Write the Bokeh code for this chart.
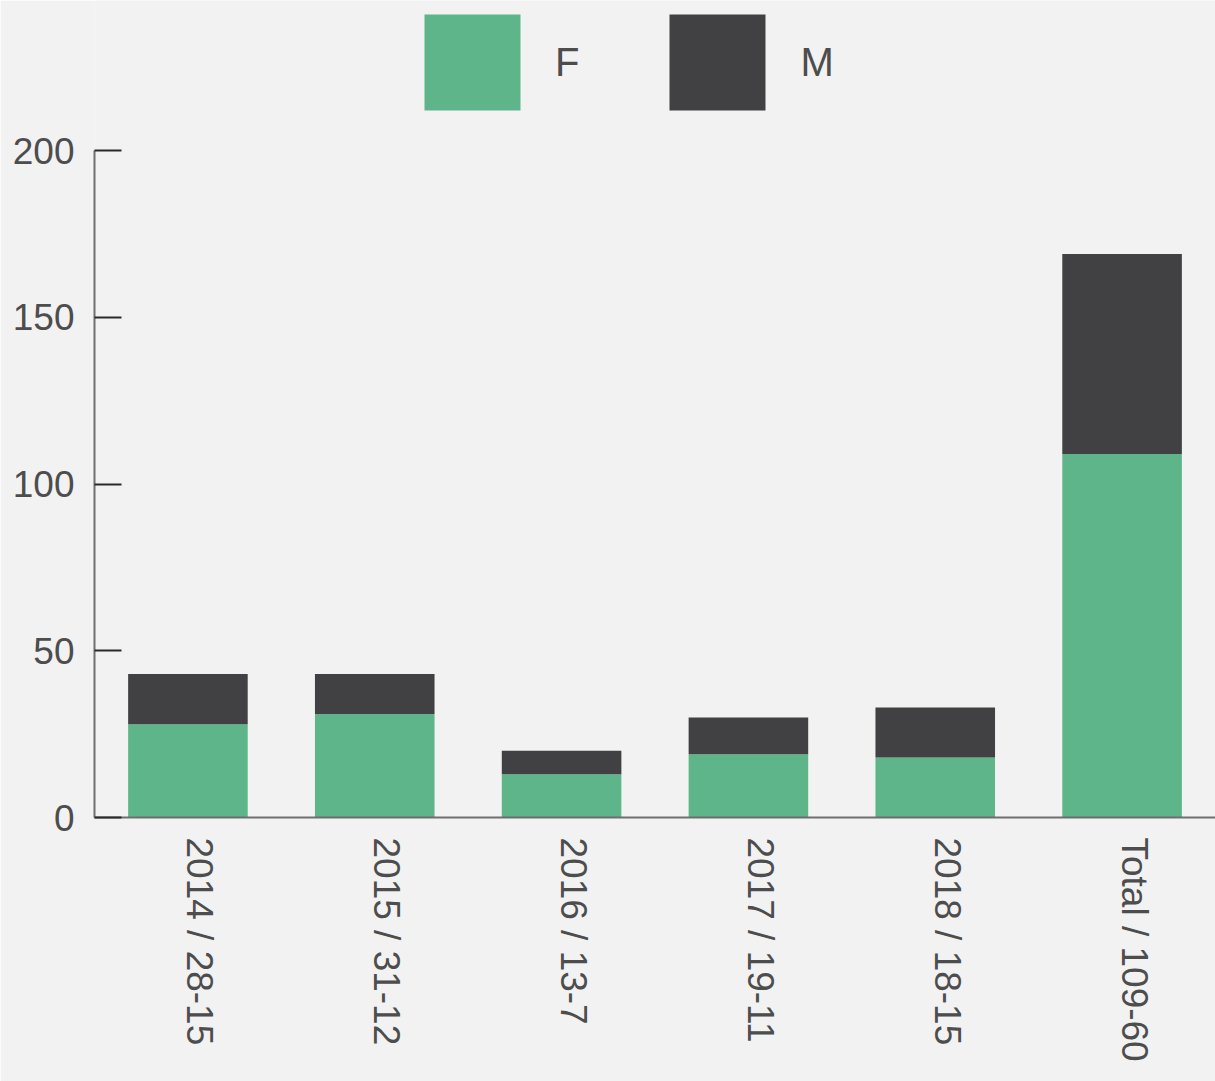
import math
from bokeh.plotting import figure
from bokeh.models import Legend, Range1d, SingleIntervalTicker, FixedTicker
from bokeh.embed import file_html
from bokeh.resources import INLINE

categories = ["2014 / 28-15", "2015 / 31-12", "2016 / 13-7", "2017 / 19-11", "2018 / 18-15", "Total / 109-60"]
female = [28, 31, 13, 19, 18, 109]
male = [15, 12, 7, 11, 15, 60]
series = ["F", "M"]
colors = ["#5db589", "#414042"]
y_ticks_max = 200

BG = "#f2f2f2"
FONT = "Liberation Sans"
TXT = "#4d4d4d"

n = len(categories)
label_shift = 0.064  # labels sit slightly right of bar centres
slots = [i + 0.5 for i in range(n)]
label_pos = [s + label_shift for s in slots]

p = figure(x_range=Range1d(0, n), y_range=Range1d(0, 245),
           width=1215, height=1081, output_backend="svg", toolbar_location=None,
           min_border_left=94, min_border_top=0, min_border_right=0, min_border_bottom=264)
p.background_fill_color = BG
p.border_fill_color = BG
p.outline_line_color = None
p.grid.grid_line_color = None

data = {"x": slots, "F": female, "M": male}
rs = p.vbar_stack(series, x="x", width=0.64, color=colors, line_color=colors, line_width=0, source=data)

yax = p.yaxis[0]
yax.bounds = (0, y_ticks_max)
yax.ticker = SingleIntervalTicker(interval=50)
yax.axis_line_color = "#6f6f6f"
yax.axis_line_width = 2
yax.major_tick_in = 27
yax.major_tick_out = 0
yax.major_tick_line_color = "#2a2a2a"
yax.major_tick_line_width = 2
yax.minor_tick_line_color = None
yax.major_label_text_font = FONT
yax.major_label_text_font_size = "37px"
yax.major_label_text_color = TXT
yax.major_label_standoff = 16

xax = p.xaxis[0]
xax.ticker = FixedTicker(ticks=label_pos)
xax.major_label_overrides = {t: c for t, c in zip(label_pos, categories)}
xax.axis_line_color = "#6f6f6f"
xax.axis_line_width = 2
xax.major_tick_line_color = None
xax.minor_tick_line_color = None
xax.major_label_orientation = -math.pi / 2
xax.major_label_text_font = FONT
xax.major_label_text_font_size = "37px"
xax.major_label_text_color = TXT
xax.major_label_standoff = 14

legend = Legend(items=[(s, [r]) for s, r in zip(series, rs)], orientation="horizontal",
                location=(318, 695), glyph_width=120, glyph_height=120, label_standoff=23,
                spacing=78, padding=0, margin=0, background_fill_alpha=0, border_line_alpha=0,
                label_text_font=FONT, label_text_font_size="40px", label_text_color=TXT)
p.add_layout(legend, "center")

open("out.html", "w").write(file_html(p, INLINE))
